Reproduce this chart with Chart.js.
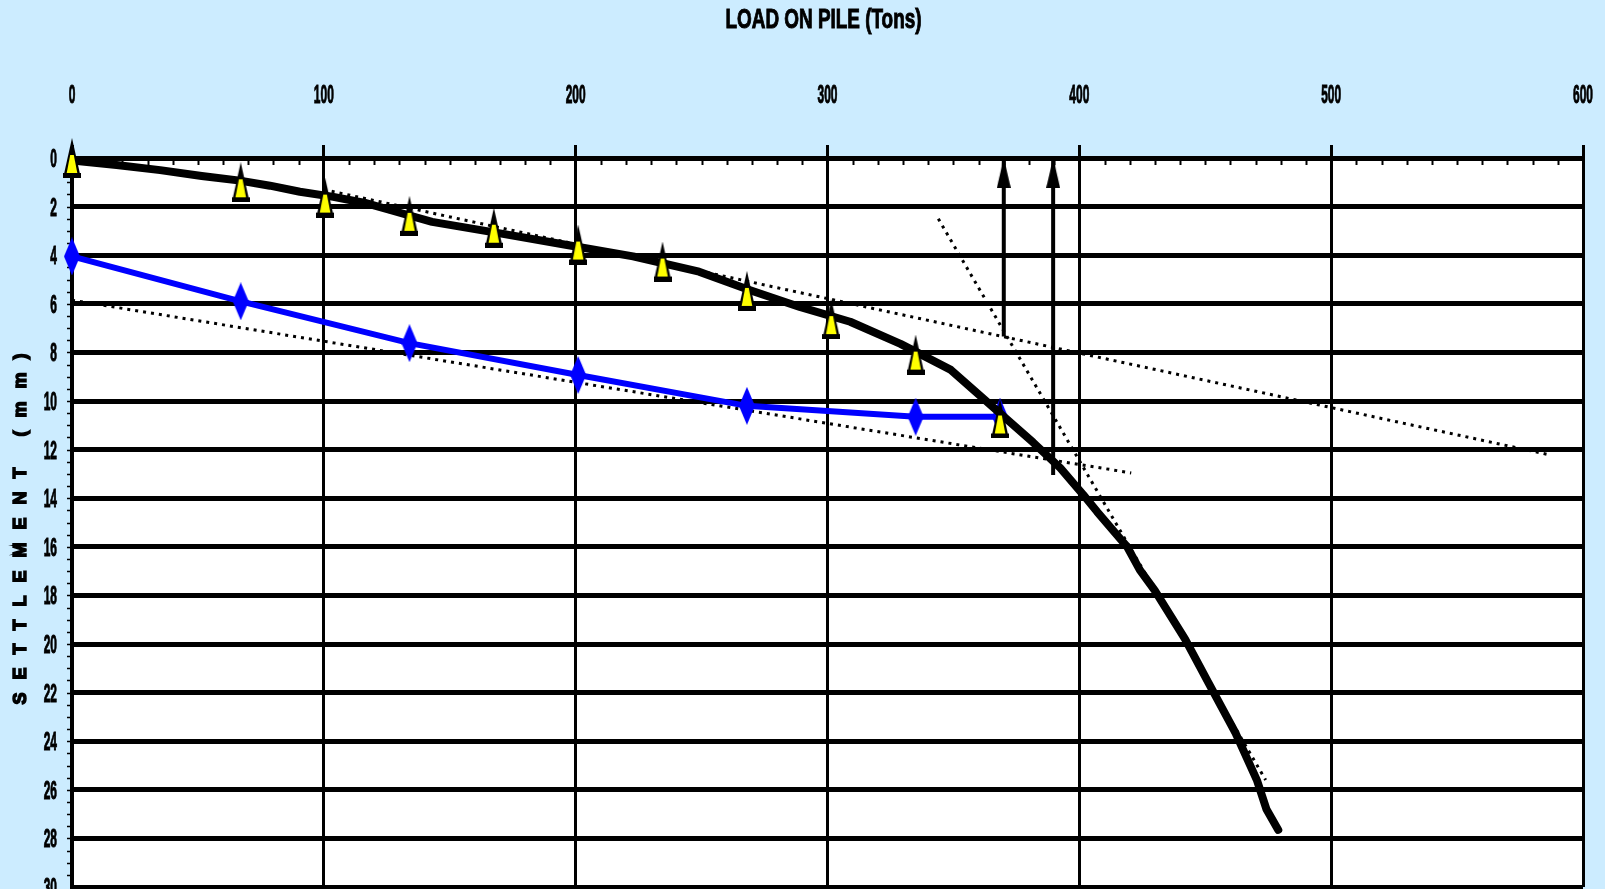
<!DOCTYPE html>
<html>
<head>
<meta charset="utf-8">
<title>Load on pile</title>
<script src="https://cdn.jsdelivr.net/npm/chart.js@4.4.0/dist/chart.umd.min.js"></script>
<style>
  html, body { margin: 0; padding: 0; background: #ccecff; }
  canvas { display: block; }
</style>
</head>
<body>
<canvas id="pileChart" width="1605" height="889"></canvas>
<script>
// axis ticks
const loadTicks = [0, 100, 200, 300, 400, 500, 600];
const settleTicks = [0, 2, 4, 6, 8, 10, 12, 14, 16, 18, 20, 22, 24, 26, 28, 30];

// test readings (yellow triangles)
const testLoads = [0, 67, 100.5, 134, 167.5, 201, 234.5, 268, 301.5, 335, 368.5];
const testSettle = [0, 1.0, 1.63, 2.38, 2.87, 3.56, 4.26, 5.47, 6.63, 8.09, 10.72];

// blue line
const blueLoads = [0, 67, 134, 201, 268, 335, 368.5];
const blueSettle = [4.05, 5.9, 7.62, 8.93, 10.2, 10.65, 10.65];

// load-settlement curve
const curveLoads = [0, 17.7, 35, 51.5, 66.7, 78.6, 90.5, 103.8, 116.4, 126.3, 143, 170, 196.6, 222.8, 249, 269, 289, 309, 329, 349, 368.5, 381.6, 392.4, 401.5, 407, 419, 424, 430, 442, 451.3, 462, 470.5, 474.3, 479];
const curveSettle = [0.1, 0.29, 0.5, 0.74, 0.93, 1.14, 1.39, 1.6, 1.85, 2.14, 2.63, 3.1, 3.58, 4.05, 4.68, 5.43, 6.13, 6.74, 7.65, 8.72, 10.5, 11.7, 12.75, 13.85, 14.55, 16.0, 16.95, 17.8, 19.8, 21.6, 23.66, 25.6, 26.8, 27.65];

// dotted construction lines
const lineALoads = [0, 420.6];
const lineASettle = [5.85, 12.96];
const lineBLoads = [100, 586];
const lineBSettle = [1.3, 12.2];
const lineCLoads = [344, 474];
const lineCSettle = [2.5, 25.6];

// arrows
const arrow1Loads = [370, 370];
const arrow1Settle = [7.35, 0];
const arrow2Loads = [389.6, 389.6];
const arrow2Settle = [13.05, 0];

const pts = (xs, ys) => xs.map((x, i) => ({ x: x, y: ys[i] }));

// marker pictures
function triangleMarker() {
    const c = document.createElement('canvas');
    c.width = 18; c.height = 40;
    const g = c.getContext('2d');
    g.fillStyle = '#000';
    g.beginPath(); g.moveTo(9, 0); g.lineTo(17, 36); g.lineTo(1, 36); g.closePath(); g.fill();
    g.fillRect(0, 35, 18, 5);
    g.fillStyle = '#ffff00';
    g.beginPath(); g.moveTo(7.2, 17); g.lineTo(10.8, 17); g.lineTo(14.3, 35); g.lineTo(3.7, 35); g.closePath(); g.fill();
    return c;
}
function diamondMarker() {
    const c = document.createElement('canvas');
    c.width = 16; c.height = 38;
    const g = c.getContext('2d');
    g.fillStyle = '#0000ff';
    g.beginPath(); g.moveTo(8, 0); g.lineTo(16, 19); g.lineTo(8, 38); g.lineTo(0, 19); g.closePath(); g.fill();
    return c;
}
function arrowHead() {
    // tip sits in the middle so the picture's centre is the arrow point
    const c = document.createElement('canvas');
    c.width = 14; c.height = 60;
    const g = c.getContext('2d');
    g.fillStyle = '#000';
    g.beginPath(); g.moveTo(7, 30); g.lineTo(14, 60); g.lineTo(0, 60); g.closePath(); g.fill();
    return c;
}
const triImg = triangleMarker();
const diaImg = diamondMarker();
const arrowImg = arrowHead();

function condensedText(ctx, text, x, y, size, sx, align) {
    ctx.save();
    ctx.translate(x, y);
    ctx.scale(sx, 1);
    ctx.font = 'bold ' + size + 'px "Liberation Sans", Arial, sans-serif';
    ctx.fillStyle = '#000';
    ctx.strokeStyle = '#000';
    ctx.lineWidth = 1;
    ctx.textAlign = align;
    ctx.textBaseline = 'alphabetic';
    ctx.fillText(text, 0, 0);
    ctx.strokeText(text, 0, 0);
    ctx.restore();
}

const frame = {
    id: 'frame',
    beforeDraw(chart) {
        const { ctx, chartArea: a } = chart;
        ctx.save();
        ctx.fillStyle = '#ccecff';
        ctx.fillRect(0, 0, chart.width, chart.height);
        ctx.fillStyle = '#ffffff';
        ctx.fillRect(a.left, a.top, a.right - a.left, a.bottom - a.top);
        ctx.restore();
    },
    beforeDatasetsDraw(chart) {
        const { ctx, chartArea: a, scales } = chart;
        ctx.save();
        ctx.strokeStyle = '#000';
        // small ticks on the load axis, pointing into the plot
        ctx.lineWidth = 2;
        for (let v = 10; v < 600; v += 10) {
            if (v % 100 === 0) continue;
            const px = Math.round(scales.x.getPixelForValue(v)) + 0.5;
            ctx.beginPath(); ctx.moveTo(px, a.top); ctx.lineTo(px, a.top + 7); ctx.stroke();
        }
        // small ticks on the settlement axis, pointing out
        ctx.lineWidth = 1.5;
        for (let v = 0.5; v < 30; v += 0.5) {
            const py = Math.round(scales.y.getPixelForValue(v)) + 0.5;
            ctx.beginPath(); ctx.moveTo(a.left - 5, py); ctx.lineTo(a.left, py); ctx.stroke();
        }
        ctx.restore();
    },
    afterDraw(chart) {
        const { ctx, chartArea: a, scales } = chart;
        loadTicks.forEach(v => {
            condensedText(ctx, String(v), scales.x.getPixelForValue(v), 103, 26, 0.46, 'center');
        });
        settleTicks.forEach(v => {
            condensedText(ctx, String(v), 57, scales.y.getPixelForValue(v) + 9, 26, 0.46, 'right');
        });
        condensedText(ctx, 'LOAD ON PILE (Tons)', (a.left + a.right) / 2 - 4, 28, 27, 0.7, 'center');

        ctx.save();
        ctx.translate(21, (a.top + a.bottom) / 2);
        ctx.rotate(-Math.PI / 2);
        ctx.font = 'bold 18px "Liberation Sans", Arial, sans-serif';
        if ('letterSpacing' in ctx) ctx.letterSpacing = '13px';
        ctx.fillStyle = '#000';
        ctx.strokeStyle = '#000';
        ctx.lineWidth = 1.5;
        ctx.textAlign = 'center';
        ctx.textBaseline = 'middle';
        ctx.fillText('SETTLEMENT (mm)', 0, 0);
        ctx.strokeText('SETTLEMENT (mm)', 0, 0);
        ctx.restore();
    }
};

const dotted = {
    borderColor: '#000',
    borderWidth: 3,
    borderDash: [3, 5],
    pointRadius: 0,
    showLine: true,
    tension: 0
};

const ctx = document.getElementById('pileChart').getContext('2d');

new Chart(ctx, {
    type: 'scatter',
    data: {
        datasets: [
            {
                label: 'Test readings',
                data: pts(testLoads, testSettle),
                pointStyle: triImg,
                pointRadius: 10,
                showLine: false,
                clip: false
            },
            {
                label: 'Load-settlement curve',
                data: pts(curveLoads, curveSettle),
                borderColor: '#000',
                borderWidth: 8,
                borderJoinStyle: 'round',
                borderCapStyle: 'round',
                pointRadius: 0,
                showLine: true,
                tension: 0
            },
            {
                label: 'Blue line',
                data: pts(blueLoads, blueSettle),
                borderColor: '#0000ff',
                borderWidth: 6,
                pointStyle: diaImg,
                pointRadius: 10,
                showLine: true,
                tension: 0,
                clip: false
            },
            Object.assign({ label: 'Line A', data: pts(lineALoads, lineASettle) }, dotted),
            Object.assign({ label: 'Line B', data: pts(lineBLoads, lineBSettle) }, dotted),
            Object.assign({ label: 'Line C', data: pts(lineCLoads, lineCSettle) }, dotted),
            {
                label: 'Arrow 1',
                data: pts(arrow1Loads, arrow1Settle),
                borderColor: '#000',
                borderWidth: 4,
                pointStyle: arrowImg,
                pointRadius: [0, 10],
                showLine: true
            },
            {
                label: 'Arrow 2',
                data: pts(arrow2Loads, arrow2Settle),
                borderColor: '#000',
                borderWidth: 4,
                pointStyle: arrowImg,
                pointRadius: [0, 10],
                showLine: true
            }
        ]
    },
    options: {
        responsive: false,
        devicePixelRatio: 1,
        animation: false,
        layout: { autoPadding: false, padding: { top: 0, left: 0, right: 22, bottom: 2 } },
        plugins: {
            legend: { display: false },
            tooltip: { enabled: false }
        },
        scales: {
            x: {
                type: 'linear',
                position: 'top',
                min: 0,
                max: 600,
                afterBuildTicks: s => { s.ticks = loadTicks.map(v => ({ value: v })); },
                afterFit: s => { s.height = 158; },
                ticks: { display: false },
                grid: { color: '#000', lineWidth: 3, drawTicks: true, tickLength: 13 },
                border: { color: '#000', width: 5 }
            },
            y: {
                type: 'linear',
                reverse: true,
                min: 0,
                max: 30,
                afterBuildTicks: s => { s.ticks = settleTicks.map(v => ({ value: v })); },
                afterFit: s => { s.width = 72; },
                ticks: { display: false },
                grid: { color: '#000', lineWidth: 5, drawTicks: false },
                border: { color: '#000', width: 4 }
            }
        }
    },
    plugins: [frame]
});
</script>
</body>
</html>
